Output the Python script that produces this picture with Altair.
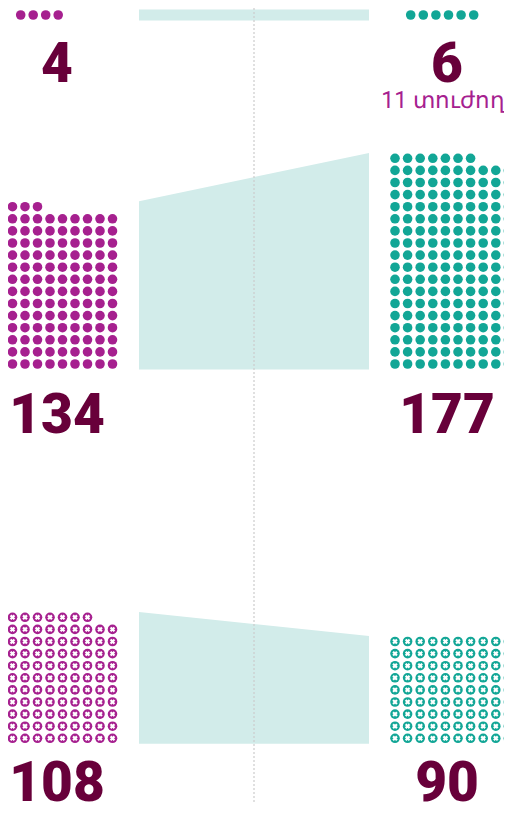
import altair as alt
import pandas as pd

# ---------------- data ----------------
panels = ["top", "middle", "bottom"]
left_values = [4, 134, 108]
right_values = [6, 177, 90]
markers = ["dot", "dot", "cross"]
right_notes = ["11 տուժող", "", ""]

# ---------------- layout ----------------
W, H = 496, 801          # chart size (viewport minus page margins)
OX, OY = 8, 8            # page margin offset
COLS = 10
PX_L, PX_R = 12.5, 12.6  # horizontal dot pitch
PY = 12.1                # vertical dot pitch
R = 5.4                  # dot radius
base_y = [15, 364, 738.3]        # centre of bottom dot row per panel
left_x0 = [20.7, 0, 0]           # first column centre, left side
right_x0 = [410.7, 395, 395]     # first column centre, right side
label_y = [81.7, 433, 801]       # baseline of the big numbers
left_cx, right_cx = 57, 447
band_x = [139, 369]
divider_x, divider_y = 254, 803

PURPLE = "#a6208f"
TEAL = "#12a696"
BAND = "#d2ecea"
MAROON = "#68003a"

dots, bands, labels = [], [], []
for p, (name, lv, rv, mk) in enumerate(zip(panels, left_values, right_values, markers)):
    for side, n, x0, px in (("left", lv, left_x0[p], PX_L), ("right", rv, right_x0[p], PX_R)):
        for i in range(n):
            dots.append({"panel": name, "side": side, "marker": mk,
                         "x": x0 + (i % COLS) * px,
                         "y": base_y[p] - (i // COLS) * PY})
    rows_l = -(-lv // COLS)
    rows_r = -(-rv // COLS)
    bands.append({"panel": name, "x": band_x[0],
                  "top": base_y[p] - (rows_l - 1) * PY - R, "bottom": base_y[p] + R})
    bands.append({"panel": name, "x": band_x[1],
                  "top": base_y[p] - (rows_r - 1) * PY - R, "bottom": base_y[p] + R})
    labels.append({"x": left_cx, "y": label_y[p], "text": str(lv)})
    labels.append({"x": right_cx, "y": label_y[p], "text": str(rv)})

dots = pd.DataFrame(dots)
bands = pd.DataFrame(bands)
labels = pd.DataFrame(labels)
notes = pd.DataFrame([{"x": right_cx - 4, "y": 108, "text": right_notes[0]}])
divider = pd.DataFrame([{"x": divider_x, "y": 0, "y2": divider_y}])

xs = alt.Scale(domain=[OX, OX + W], nice=False, zero=False)
ys = alt.Scale(domain=[OY, OY + H], nice=False, zero=False, reverse=True)

X = lambda f: alt.X(f, type="quantitative", scale=xs, axis=None)
Y = lambda f: alt.Y(f, type="quantitative", scale=ys, axis=None)

band_layer = alt.Chart(bands).mark_area(color=BAND, opacity=1).encode(
    x=X("x"), y=Y("top"), y2="bottom", detail="panel:N"
)

divider_layer = alt.Chart(divider).mark_rule(
    color="#cccccc", strokeWidth=1.2, strokeDash=[2, 2]
).encode(x=X("x"), y=Y("y"), y2="y2")

dot_layer = alt.Chart(dots).mark_circle(size=3.14159 * R * R, opacity=1).encode(
    x=X("x"), y=Y("y"),
    color=alt.Color("side:N", scale=alt.Scale(domain=["left", "right"], range=[PURPLE, TEAL]), legend=None),
)

cross_layer = alt.Chart(dots).transform_filter(alt.datum.marker == "cross").mark_point(
    shape="M-1,-1L1,1M1,-1L-1,1", filled=False, stroke="white", strokeWidth=2.2,
    size=15, opacity=1, strokeCap="butt"
).encode(x=X("x"), y=Y("y"))

label_layer = alt.Chart(labels).mark_text(
    font="Roboto", fontWeight=900, fontSize=55, color=MAROON, align="center", baseline="alphabetic"
).encode(x=X("x"), y=Y("y"), text="text:N")

note_layer = alt.Chart(notes).mark_text(
    font="Roboto", fontSize=23, color=PURPLE, align="center", baseline="alphabetic"
).encode(x=X("x"), y=Y("y"), text="text:N")

chart = alt.layer(
    band_layer, divider_layer, dot_layer, cross_layer, label_layer, note_layer
).properties(
    width=W, height=H, padding=0, autosize=alt.AutoSizeParams(type="none")
).configure_view(stroke=None)

chart.save("out.html", embed_options={"renderer": "svg", "actions": False})
